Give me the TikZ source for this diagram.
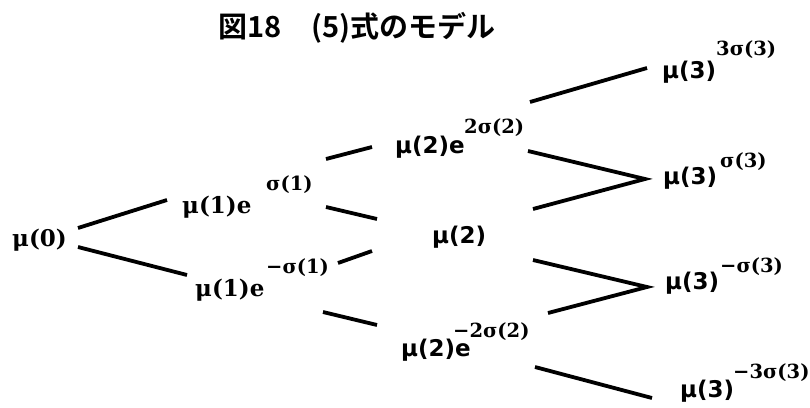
\documentclass[tikz,border=0pt]{standalone}
\usepackage{fontspec}
\setmainfont{DejaVu Serif}
\newfontfamily\labsans{DejaVu Sans}
\newfontfamily\cjkfont{Noto Sans CJK JP}[BoldFont={* Bold}]
\usepackage{tikz}
\usetikzlibrary{positioning}

\begin{document}
\begin{tikzpicture}[
    x=1pt, y=-1pt,
    edge/.style={line width=3.8pt},
    lab/.style={anchor=west, inner sep=0pt,
                font=\fontsize{23}{25}\selectfont\bfseries},
    labs/.style={anchor=west, inner sep=0pt,
                font=\fontsize{23}{25}\selectfont\labsans\bfseries},
    sup/.style={anchor=west, inner sep=0pt,
                font=\fontsize{19.5}{21}\selectfont\bfseries},
    ttl/.style={inner sep=0pt,
                font=\fontsize{29}{31}\selectfont\cjkfont\bfseries},
  ]
  \useasboundingbox (0,0) rectangle (810,407);

  % ============ Title ============
  \node[ttl] (title) at (357,28) {図18　(5)式のモデル};

  % ============ Step 0 ============
  \node[lab] (m0) at (12,240) {μ(0)};

  % ============ Step 1 ============
  \node[lab] (m1u) at (182,207) {μ(1)e};
  \node[sup] (m1u-s) at (266,185) {σ(1)};
  \node[lab] (m1d) at (195,290) {μ(1)e};
  \node[sup] (m1d-s) at (266,268) {−σ(1)};

  % ============ Step 2 ============
  \node[labs] (m2u) at (395,147) {μ(2)e};
  \node[sup] (m2u-s) at (464,128) {2σ(2)};
  \node[labs] (m2m) at (432,237) {μ(2)};
  \node[labs] (m2d) at (401,350) {μ(2)e};
  \node[sup] (m2d-s) at (453,332) {−2σ(2)};

  % ============ Step 3 ============
  \node[labs] (m3a) at (662,72) {μ(3)};
  \node[sup] (m3a-s) at (716,50) {3σ(3)};
  \node[labs] (m3b) at (663,178) {μ(3)};
  \node[sup] (m3b-s) at (720,162) {σ(3)};
  \node[labs] (m3c) at (665,283) {μ(3)};
  \node[sup] (m3c-s) at (720,267) {−σ(3)};
  \node[labs] (m3d) at (680,391) {μ(3)};
  \node[sup] (m3d-s) at (733,373) {−3σ(3)};

  % ======== line ends ========
  \coordinate (e01a) at (78,228);   \coordinate (e01b) at (167,200);
  \coordinate (e02a) at (78,247);   \coordinate (e02b) at (187,275);
  \coordinate (e11a) at (326,159);  \coordinate (e11b) at (372,147);
  \coordinate (e12a) at (326,207);  \coordinate (e12b) at (377,219);
  \coordinate (e13a) at (338,263);  \coordinate (e13b) at (372,251);
  \coordinate (e14a) at (323,312);  \coordinate (e14b) at (377,325);
  \coordinate (e21a) at (530,102);  \coordinate (e21b) at (647,68);
  \coordinate (e22a) at (528,151);  \coordinate (vb) at (645,179);
  \coordinate (e23a) at (533,209);
  \coordinate (e24a) at (533,260);  \coordinate (vc) at (647,287);
  \coordinate (e25a) at (548,313);
  \coordinate (e26a) at (535,367);  \coordinate (e26b) at (652,398);

  % ======== branches ========
  \draw[edge] (e01a) -- (e01b);
  \draw[edge] (e02a) -- (e02b);
  \draw[edge] (e11a) -- (e11b);
  \draw[edge] (e12a) -- (e12b);
  \draw[edge] (e13a) -- (e13b);
  \draw[edge] (e14a) -- (e14b);
  \draw[edge] (e21a) -- (e21b);
  \draw[edge] (e22a) -- (vb) -- (e23a);
  \draw[edge] (e24a) -- (vc) -- (e25a);
  \draw[edge] (e26a) -- (e26b);

\end{tikzpicture}
\end{document}
